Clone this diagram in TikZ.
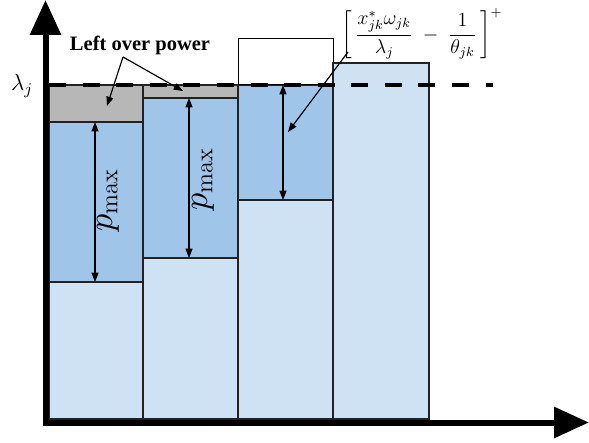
\documentclass[tikz,border=0pt]{standalone}
\usepackage{fix-cm}
\usepackage{amsmath,amssymb}
\usepackage{fontspec}
\newfontfamily\notefont{Liberation Serif}
\usetikzlibrary{arrows.meta,calc}
\definecolor{blight}{HTML}{CFE2F3}
\definecolor{bmid}{HTML}{9FC5E8}
\definecolor{bgray}{HTML}{B7B7B7}
\definecolor{bline}{HTML}{222222}
\tikzset{
  lowbar/.style={fill=blight,draw=bline,line width=1pt},
  pbar/.style={fill=bmid,draw=bline,line width=1pt},
  leftbar/.style={fill=bgray,draw=bline,line width=0.8pt},
  emptybar/.style={fill=white,draw=black,line width=0.6pt},
  axis/.style={{Triangle[length=21pt,width=18pt]}-{Triangle[length=21pt,width=18pt]},line width=3.6pt},
  level/.style={line width=2.7pt,dash pattern=on 10.2pt off 9.95pt},
  dim/.style={{Triangle[length=5.6pt,width=4.2pt]}-{Triangle[length=5.6pt,width=4.2pt]},line width=0.7pt},
  arr/.style={-{Triangle[length=5.6pt,width=4.2pt]},line width=0.7pt},
  mathlbl/.style={font=\fontsize{14}{16}\selectfont,inner sep=1pt},
  plbl/.style={rotate=90,font=\fontsize{21}{25}\selectfont,inner sep=1pt},
}

\begin{document}
\begin{tikzpicture}[x=0.6pt,y=-0.6pt]
  \useasboundingbox (0,0) rectangle (589,442);
  \foreach \xa/\xb/\ylo/\yp in {49/143/282/122,143/238/258/98,238/333/200/85} {
    \draw[lowbar] (\xa,419) rectangle (\xb,\ylo);
    \draw[pbar] (\xa,\ylo) rectangle (\xb,\yp);
  }
  \draw[leftbar] (49,122) rectangle (143,85);
  \draw[leftbar] (143,98) rectangle (238,85);
  \draw[emptybar] (238,85) rectangle (333,39);
  \draw[lowbar] (333,419) rectangle (429,63);
  \draw[level] (49,85) -- (493,85);
  \draw[axis] (45.5,0) -- (45.5,422.5) -- (589,422.5);
  \node[mathlbl] (lam) at (22,86) {$\lambda_j$};
  \node[font=\notefont\bfseries\fontsize{12.3}{14}\selectfont,inner sep=1pt] (lop) at (140,45) {Left over power};
  \node[font=\fontsize{12}{14}\selectfont,inner sep=0pt,anchor=north] (frm) at (422,8) {$\displaystyle\biggl[\,\frac{x^*_{jk}\omega_{jk}}{\lambda_j}\;-\;\frac{1}{\theta_{jk}}\,\biggr]^+$};
  \node[plbl] (pa) at (108,200) {$p_{\max}$};
  \node[plbl] (pb) at (203,179) {$p_{\max}$};
  \coordinate (lsrc) at (123,57);
  \coordinate (lg1) at (107,106);
  \coordinate (lg2) at (183,91);
  \coordinate (fsrc) at (348,52);
  \coordinate (fdst) at (288,132);
  \coordinate (d1t) at (95,122);
  \coordinate (d1b) at (95,282);
  \coordinate (d2t) at (189,98);
  \coordinate (d2b) at (189,258);
  \coordinate (d3t) at (283,85);
  \coordinate (d3b) at (283,200);
  \draw[arr] (lsrc) -- (lg1);
  \draw[arr] (lsrc) -- (lg2);
  \draw[arr] (fsrc) -- (fdst);
  \foreach \a/\b in {d1t/d1b,d2t/d2b,d3t/d3b} \draw[dim] (\a) -- (\b);
\end{tikzpicture}
\end{document}
